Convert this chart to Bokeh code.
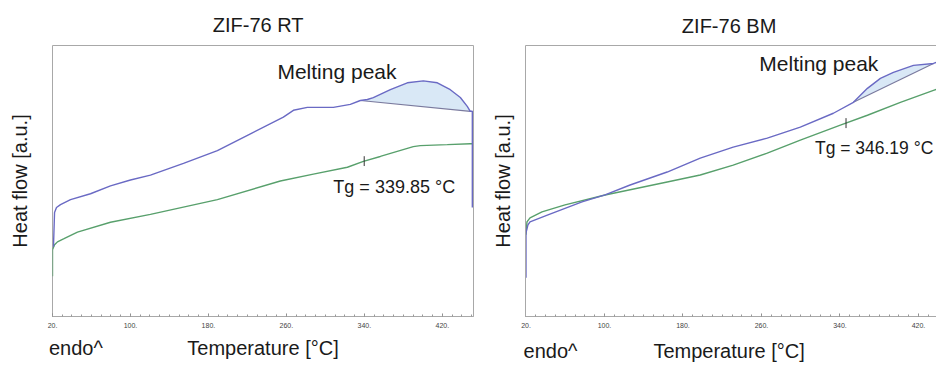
import numpy as np
from bokeh.plotting import figure
from bokeh.layouts import row
from bokeh.models import Range1d, FixedTicker, Label, LinearAxis
from bokeh.embed import file_html
from bokeh.resources import INLINE

# ---------------- data ----------------
tick_values = [20, 100, 180, 260, 340, 420]
tick_labels = ["20.", "100.", "180.", "260.", "340.", "420."]

# ZIF-76 RT
rt_temp_blue = [21.0, 22.1, 24.1, 28.2, 38.5, 59.0, 79.5, 100.0, 120.5, 154.4, 189.2, 223.1,
                256.9, 267.2, 281.5, 294.9, 308.2, 325.6, 335.9, 343.1, 349.2, 366.7, 384.1,
                400.5, 414.9, 428.2, 438.5, 445.6, 448.7, 450.8, 450.8]
rt_heat_blue = [71, 106, 111, 114, 119, 125, 133, 139, 144, 156, 169, 186,
                203, 210, 213, 213, 213, 216, 220, 221, 223, 231, 238,
                240, 238, 231, 223, 214, 209, 209, 111]
rt_temp_green = [20.0, 20.0, 22.1, 25.1, 31.3, 45.6, 79.5, 120.5, 189.2, 253.8, 287.7, 322.6,
                 339.0, 356.4, 390.2, 397.4, 425.1, 448.7, 450.8]
rt_heat_green = [41, 68, 73, 76, 79, 86, 96, 104, 119, 138, 145, 152,
                 158, 163, 173, 174, 175, 176, 176]
rt_peak_start, rt_peak_end = 335.9, 448.7
rt_tg = 339.85

# ZIF-76 BM
bm_temp_blue = [20.0, 20.0, 22.0, 24.1, 42.4, 77.1, 100.6, 126.1, 163.9, 197.6, 231.2, 265.9,
                299.6, 333.3, 353.7, 368.0, 381.2, 394.5, 414.9, 435.3, 438.4]
bm_heat_blue = [39, 84, 92, 95, 102, 115, 122, 132, 145, 159, 170, 179,
                190, 204, 215, 229, 239, 245, 252, 254, 255]
bm_temp_green = [20.0, 21.0, 24.1, 36.3, 59.8, 100.6, 163.9, 197.6, 231.2, 265.9, 299.6, 340.4,
                 368.0, 401.6, 435.3, 438.4]
bm_heat_green = [82, 95, 99, 105, 112, 122, 135, 142, 152, 164, 177, 192,
                 202, 215, 227, 228]
bm_peak_start, bm_peak_end = 353.7, 435.3
bm_tg = 346.19

BLUE = "#6a6ac4"
GREEN = "#58a06c"
BASE = "#7a7a9e"
FILL = "#d9e8f6"
FRAME = "#a8a8a8"
FONT = "Liberation Sans"
TXT = "#1a1a1a"


def add_text(p, x, y, text, size="20px"):
    p.add_layout(Label(x=x, y=y, text=text, text_font=FONT, text_font_size=size,
                       text_color=TXT, text_align="left", text_baseline="middle"))


def text_axis(ticks, labels, standoff, line_color=None):
    return LinearAxis(ticker=FixedTicker(ticks=ticks),
                      major_label_overrides=dict(zip(ticks, labels)),
                      axis_line_color=line_color, major_tick_line_color=None,
                      minor_tick_line_color=None, major_tick_in=0, major_tick_out=0,
                      major_label_standoff=standoff,
                      major_label_text_font=FONT, major_label_text_font_size="20px",
                      major_label_text_color=TXT)


def make_panel(width, height, xr, yr, borders, title, title_pos, title_standoff,
               ylabel_standoff, bottom_pos, bottom_standoff,
               tb, hb, tg_, hg, p0, p1, tg, right_open):
    p = figure(width=width, height=height, output_backend="svg", toolbar_location=None,
               x_range=Range1d(*xr), y_range=Range1d(*yr),
               min_border_left=borders[0], min_border_right=borders[1],
               min_border_top=borders[2], min_border_bottom=borders[3])
    p.grid.visible = False
    p.title.visible = False
    p.background_fill_color = "white"
    p.border_fill_color = "white"

    # bottom temperature axis
    xa = p.xaxis[0]
    minor = list(range(20, int(xr[1]) + 1, 10))
    xa.ticker = FixedTicker(ticks=tick_values, minor_ticks=minor)
    xa.major_label_overrides = dict(zip(tick_values, tick_labels))
    xa.major_label_text_font = FONT
    xa.major_label_text_font_size = "7px"
    xa.major_label_text_color = "#444444"
    xa.major_label_standoff = 6
    xa.axis_line_color = FRAME
    xa.major_tick_in = 3
    xa.major_tick_out = 0
    xa.minor_tick_in = 2
    xa.minor_tick_out = 0
    xa.major_tick_line_color = "#888888"
    xa.minor_tick_line_color = "#999999"

    # second row under the axis: "endo^" and the axis title, placed on the temperature scale
    p.add_layout(text_axis(bottom_pos, ["endo^", "Temperature [°C]"], bottom_standoff), "below")

    # panel title above the frame, placed on the temperature scale
    p.add_layout(text_axis([title_pos], [title], title_standoff,
                           FRAME if right_open else None), "above")

    # y axis: only the title
    ya = p.yaxis[0]
    ya.ticker = FixedTicker(ticks=[])
    ya.major_tick_out = 0
    ya.major_tick_in = 0
    ya.major_label_standoff = 0
    ya.axis_label = "Heat flow [a.u.]"
    ya.axis_label_text_font = FONT
    ya.axis_label_text_font_size = "20px"
    ya.axis_label_text_font_style = "normal"
    ya.axis_label_text_color = TXT
    ya.axis_label_standoff = ylabel_standoff

    if right_open:
        p.outline_line_color = None
        ya.axis_line_color = FRAME
    else:
        ya.axis_line_color = None
        p.outline_line_color = FRAME
        p.outline_line_width = 1

    tb = np.array(tb, dtype=float)
    hb = np.array(hb, dtype=float)
    n = len(tb) if right_open else len(tb) - 1
    tbi, hbi = tb[:n], hb[:n]
    mask = (tbi >= p0) & (tbi <= p1)
    xs = tbi[mask]
    y0 = np.interp(p0, tbi, hbi)
    y1 = np.interp(p1, tbi, hbi)
    base = y0 + (xs - p0) * (y1 - y0) / (p1 - p0)
    p.varea(x=xs, y1=base, y2=hbi[mask], fill_color=FILL, fill_alpha=1.0)
    p.line([p0, p1], [y0, y1], line_color=BASE, line_width=1.2)

    p.line(tg_, hg, line_color=GREEN, line_width=1.4)
    p.line(tb, hb, line_color=BLUE, line_width=1.4)

    yg = np.interp(tg, tg_, hg)
    p.segment(x0=[tg], y0=[yg - 5], x1=[tg], y1=[yg + 5], line_color="#333333", line_width=1)
    return p


H = 365
# ---------------- left panel ----------------
p1 = make_panel(480, H, (20, 452), (0, 276), (52, 7, 40, 49), "ZIF-76 RT", 231, 10, 22,
                [44, 236], 6,
                rt_temp_blue, rt_heat_blue, rt_temp_green, rt_heat_green,
                rt_peak_start, rt_peak_end, rt_tg, False)
add_text(p1, 250.8, 250, "Melting peak", size="21px")
add_text(p1, 308.2, 132, "Tg = 339.85 °C", size="18px")

# ---------------- right panel ----------------
p2 = make_panel(456, H, (19.5, 438.4), (0, 272), (45, 0, 45, 48), "ZIF-76 BM", 227, 9, 12,
                [45, 227], 9,
                bm_temp_blue, bm_heat_blue, bm_temp_green, bm_heat_green,
                bm_peak_start, bm_peak_end, bm_tg, True)
add_text(p2, 257.8, 254, "Melting peak", size="21px")
add_text(p2, 314.5, 169, "Tg = 346.19 °C", size="17.5px")

layout = row(p1, p2)
open("out.html", "w").write(file_html(layout, INLINE))
